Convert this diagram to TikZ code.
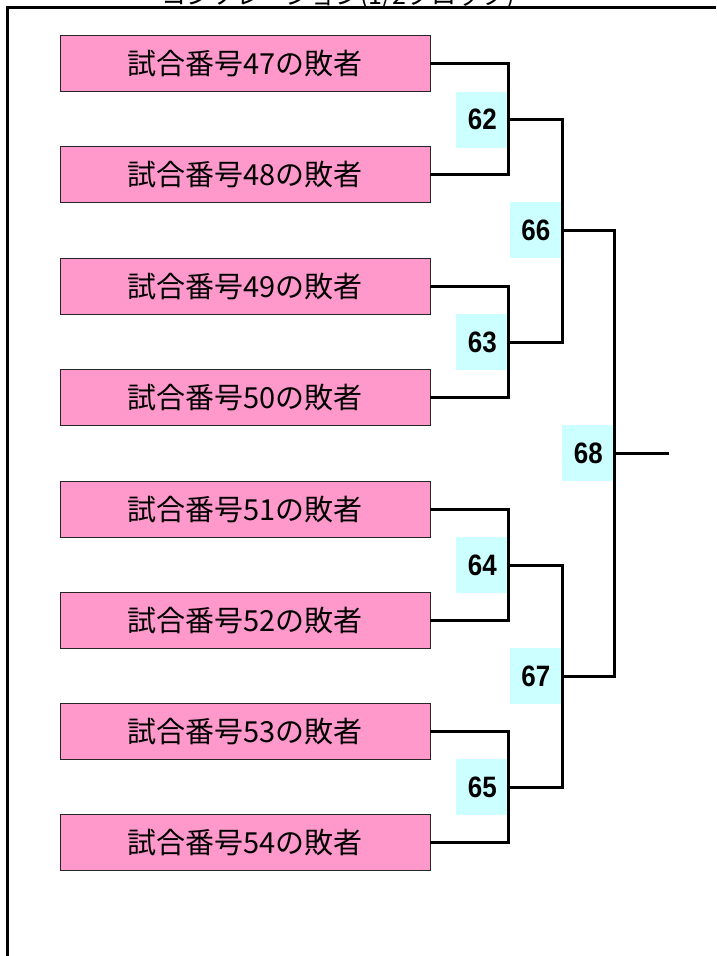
\documentclass[tikz,border=0pt]{standalone}
\usepackage{fontspec}
\setmainfont{Noto Sans CJK JP}
\newfontfamily\numfont{Liberation Sans}[FakeStretch=0.88]
\definecolor{losepink}{HTML}{FF99CC}
\definecolor{matchcyan}{HTML}{CCFFFF}
\tikzset{
  loser/.style={draw=black!85, line width=0.8pt, fill=losepink, minimum width=370pt,
    minimum height=56pt, inner sep=0pt, font=\fontsize{29}{32}\selectfont},
  matchno/.style={fill=matchcyan, minimum width=52pt, minimum height=56pt, inner sep=0pt,
    anchor=east, font=\numfont\bfseries\fontsize{29.5}{31}\selectfont},
  bracket/.style={line width=3pt}
}
\begin{document}
\begin{tikzpicture}[x=1pt,y=-1pt]
            \useasboundingbox (0,0) rectangle (716,956);
            {
            % Drawing title (cut at the top)
            \node [anchor=base, font=\fontsize{25}{28}\selectfont] (title) at (338,4.5) {コンソレーション(1/2ブロック)};
            
            % Drawing frame
            \draw [bracket] (7.5,956) -- (7.5,7.5) -- (716,7.5);
            
            % Marking losers of matches 47 to 54
            \node [loser] (l47) at (245,63.5) {試合番号47の敗者};
            \node [loser] (l48) at (245,174.5) {試合番号48の敗者};
            \node [loser] (l49) at (245,286) {試合番号49の敗者};
            \node [loser] (l50) at (245,397) {試合番号50の敗者};
            \node [loser] (l51) at (245,509.5) {試合番号51の敗者};
            \node [loser] (l52) at (245,620) {試合番号52の敗者};
            \node [loser] (l53) at (245,731) {試合番号53の敗者};
            \node [loser] (l54) at (245,842.5) {試合番号54の敗者};
            
            % Marking first round matches
            \node [matchno] (m62) at (508.5,119.5) {62};
            \node [matchno] (m63) at (508.5,342) {63};
            \node [matchno] (m64) at (508.5,565) {64};
            \node [matchno] (m65) at (508.5,787) {65};
            
            % Marking second round matches
            \node [matchno] (m66) at (562,230) {66};
            \node [matchno] (m67) at (562,676) {67};
            
            % Marking final match
            \node [matchno] (m68) at (614.5,453) {68};
            \coordinate (winner) at ([xshift=54pt]m68.east);
            
            % Drawing first round brackets
            \draw [bracket] (l47.east) -| (m62.east) |- (l48.east);
            \draw [bracket] (l49.east) -| (m63.east) |- (l50.east);
            \draw [bracket] (l51.east) -| (m64.east) |- (l52.east);
            \draw [bracket] (l53.east) -| (m65.east) |- (l54.east);
            
            % Drawing second round brackets
            \draw [bracket] (m62.east) -| (m66.east) |- (m63.east);
            \draw [bracket] (m64.east) -| (m67.east) |- (m65.east);
            
            % Drawing final bracket
            \draw [bracket] (m66.east) -| (m68.east) |- (m67.east);
            \draw [bracket] (m68.east) -- (winner);
            }
        \end{tikzpicture}
\end{document}
